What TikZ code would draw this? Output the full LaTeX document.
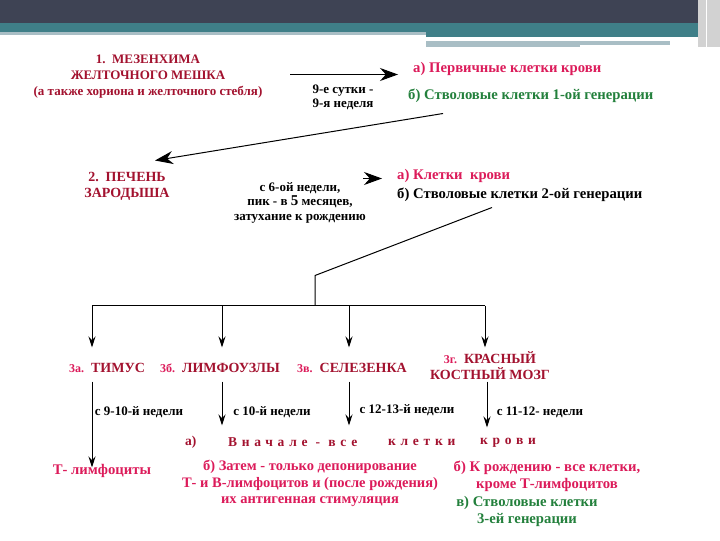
\documentclass[tikz,border=0pt]{standalone}
\usepackage{fontspec}
\setmainfont{Liberation Serif}
\usepackage{xcolor}
\usetikzlibrary{arrows.meta,positioning}

\definecolor{hdrdark}{HTML}{3E4354}
\definecolor{hdrteal}{HTML}{3F7F88}
\definecolor{hdrline}{HTML}{A9BEC5}
\definecolor{darkred}{HTML}{A3122F}
\definecolor{pinkred}{HTML}{DC1B5A}
\definecolor{greentxt}{HTML}{23803C}

\tikzset{
  stagetext/.style={font=\bfseries\fontsize{13}{16}\selectfont, text=darkred, align=center, inner sep=0pt},
  organtext/.style={stagetext, font=\bfseries\fontsize{14}{16}\selectfont},
  celltext/.style={font=\bfseries\fontsize{14.7}{17}\selectfont, text=pinkred, anchor=west, inner sep=0pt},
  termtext/.style={font=\bfseries\fontsize{13}{14.5}\selectfont, align=center, inner sep=0pt},
  spacedtext/.style={font=\bfseries\fontsize{13.5}{16}\selectfont\addfontfeatures{LetterSpace=35}, text=darkred, anchor=west, inner sep=0pt},
  arr/.style={-{Stealth[length=18pt,width=13pt]}, line width=1pt},
  downarr/.style={-{Stealth[length=11pt,width=7pt]}, line width=1pt},
}
\newcommand{\stagenum}[1]{{\color{pinkred}\fontsize{12}{13}\selectfont #1}}

\begin{document}
\begin{tikzpicture}[x=1pt,y=-1pt]

\fill[white] (0,0) rectangle (720,540);                       % Hintergrund
\fill[hdrdark] (0,0) rectangle (720,23);                      % Kopfleiste
\fill[hdrteal] (0,23) rectangle (720,32);
\fill[hdrline] (0,32) rectangle (426,35);
\fill[hdrteal] (426,32) rectangle (700,37);
\fill[hdrline] (426,41) rectangle (580,47);
\fill[hdrline] (580,41) rectangle (670,45);
\fill[gray!35] (698,0) rectangle (720,47);
\draw[white,line width=1pt] (706,0) -- (706,47);

% Stufe 1
\node[stagetext] (yolk) at (148,76) {1.\ \ МЕЗЕНХИМА\\ЖЕЛТОЧНОГО МЕШКА\\(а также хориона и желточного стебля)};
\coordinate (a1s) at (290,74);
\coordinate (a1e) at (398,74);
\draw[arr] (a1s) -- (a1e);
\node[termtext] (t1) at (343,97) {9-е сутки -\\9-я неделя};
\node[celltext] (prim) at (413,68) {а) Первичные клетки крови};
\node[celltext, text=greentxt] (stem1) at (408,95) {б) Стволовые клетки 1-ой генерации};

% Stufe 2
\coordinate (a2s) at (443,113);
\coordinate (a2e) at (155,160);
\draw[arr] (a2s) -- (a2e);
\node[organtext] (liver) at (127,186) {2.\ \ ПЕЧЕНЬ\\ЗАРОДЫША};
\coordinate (a3s) at (363,178);
\coordinate (a3e) at (382,178);
\draw[arr] (a3s) -- (a3e);
\node[termtext] (t2) at (300,202) {с 6-ой недели,\\пик - в {\fontsize{15}{15}\selectfont 5} месяцев,\\затухание к рождению};
\node[celltext] (blood2) at (397,175) {а) Клетки\ \ крови};
\node[celltext, text=black] (stem2) at (397,194) {б) Стволовые клетки 2-ой генерации};

% Verzweigung
\coordinate (s0) at (492,207);
\coordinate (s1) at (315,275);
\coordinate (hub) at (315,305);
\draw[line width=1pt] (s0) -- (s1) -- (hub);
\coordinate (b1) at (92,305);
\coordinate (b2) at (222,305);
\coordinate (b3) at (349,305);
\coordinate (b4) at (485,305);
\draw[line width=1pt] (b1) -- (b4);
\foreach \b in {b1,b2,b3,b4}
  \draw[downarr] (\b) -- ++(0,42);

% Stufe 3
\node[organtext] (thymus) at (107,367) {\stagenum{3а.}\ \ ТИМУС};
\node[organtext] (lymph) at (220,367) {\stagenum{3б.}\ \ ЛИМФОУЗЛЫ};
\node[organtext] (spleen) at (352,367) {\stagenum{3в.}\ \ СЕЛЕЗЕНКА};
\node[organtext] (marrow) at (490,365) {\stagenum{3г.}\ \ КРАСНЫЙ\\КОСТНЫЙ МОЗГ};

\coordinate (c1) at (92,381);
\coordinate (c2) at (222,381);
\coordinate (c3) at (349,381);
\coordinate (c4) at (487,381);
\draw[downarr] (c1) -- (92,467);
\draw[downarr] (c2) -- (222,425);
\draw[downarr] (c3) -- (349,425);
\draw[downarr] (c4) -- (487,427);
\node[termtext] (w1) at (139,412) {с 9-10-й недели};
\node[termtext] (w2) at (272,412) {с 10-й недели};
\node[termtext] (w3) at (407,410) {с 12-13-й недели};
\node[termtext] (w4) at (540,412) {с 11-12- недели};

% Ergebnisse
\node[celltext, anchor=center] (tcell) at (102,470) {Т- лимфоциты};
\node[celltext, text=darkred, font=\bfseries\fontsize{13.5}{16}\selectfont] (ra) at (185,442) {а)};
\node[spacedtext] (rb) at (228,442) {Вначале - все};
\node[spacedtext] (rc) at (388,442) {клетки};
\node[spacedtext] (rd) at (480,442) {крови};
\node[celltext, anchor=center, align=center, font=\bfseries\fontsize{14.5}{16.5}\selectfont] (depot) at (310,483) {б) Затем - только депонирование\\Т- и В-лимфоцитов и (после рождения)\\их антигенная стимуляция};
\node[celltext, anchor=center, align=center] (birth) at (547,476) {б) К рождению - все клетки,\\кроме Т-лимфоцитов};
\node[celltext, anchor=center, align=center, text=greentxt] (stem3) at (527,511) {в) Стволовые клетки\\3-ей генерации};

\end{tikzpicture}
\end{document}
